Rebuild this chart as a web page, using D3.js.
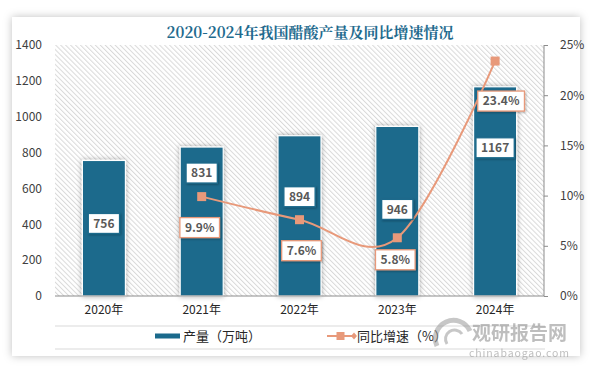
<!DOCTYPE html>
<html>
  <head>
    <meta charset="utf-8">
    <title>2020-2024年我国醋酸产量及同比增速情况</title>
    <script src="https://cdn.jsdelivr.net/npm/d3@7"></script>
    <style>
      body { margin: 0; background: #ffffff; }
      text { font-family: "Noto Sans CJK SC", "Noto Sans", sans-serif; }
      .axisLabel { font-size: 12px; fill: #404040; }
      .valueLabel { font-size: 12px; font-weight: bold; fill: #595959; }
    </style>
  </head>
  <body>
    <svg id="chart" width="595" height="368"></svg>

    <script>
      // data
      years = ["2020年", "2021年", "2022年", "2023年", "2024年"];
      output = [756, 831, 894, 946, 1167];
      growth = [null, 9.9, 7.6, 5.8, 23.4];
      leftTicks = [0, 200, 400, 600, 800, 1000, 1200, 1400];
      rightTicks = [0, 5, 10, 15, 20, 25];

      // colours
      barColour = "#1b6a8c";
      lineColour = "#e8997a";

      svg = d3.select("#chart");
      defs = svg.append("defs");

      // hatch pattern for plot background
      hatch = defs.append("pattern")
        .attr("id", "hatch")
        .attr("patternUnits", "userSpaceOnUse")
        .attr("width", 3.5)
        .attr("height", 3.5)
        .attr("patternTransform", "rotate(-45)");
      hatch.append("rect").attr("width", 3.5).attr("height", 3.5).attr("fill", "#ffffff");
      hatch.append("line")
        .attr("x1", 0.5).attr("y1", 0).attr("x2", 0.5).attr("y2", 3.5)
        .attr("stroke", "#d9d9d9").attr("stroke-width", 1);

      cardShadow = defs.append("filter").attr("id", "cardShadow")
        .attr("x", "-5%").attr("y", "-5%").attr("width", "110%").attr("height", "110%");
      cardShadow.append("feDropShadow")
        .attr("dx", 0).attr("dy", 0).attr("stdDeviation", 4)
        .attr("flood-color", "#000").attr("flood-opacity", 0.25);

      barShadow = defs.append("filter").attr("id", "barShadow")
        .attr("x", "-30%").attr("y", "-10%").attr("width", "160%").attr("height", "120%");
      barShadow.append("feDropShadow")
        .attr("dx", 0).attr("dy", 0).attr("stdDeviation", 2.5)
        .attr("flood-color", "#000").attr("flood-opacity", 0.35);

      labelShadow = defs.append("filter").attr("id", "labelShadow")
        .attr("x", "-20%").attr("y", "-20%").attr("width", "140%").attr("height", "150%");
      labelShadow.append("feDropShadow")
        .attr("dx", 1).attr("dy", 1).attr("stdDeviation", 1)
        .attr("flood-color", "#000").attr("flood-opacity", 0.3);

      // card
      svg.append("rect")
        .attr("x", 12).attr("y", 17)
        .attr("width", 568).attr("height", 339)
        .attr("fill", "#ffffff")
        .attr("filter", "url(#cardShadow)");

      // title
      svg.append("text")
        .attr("x", 310)
        .attr("y", 38)
        .attr("text-anchor", "middle")
        .style("font-family", "'Noto Serif CJK SC', 'DejaVu Serif', serif")
        .style("font-size", "15px")
        .style("font-weight", "bold")
        .style("fill", "#1f6b8e")
        .text("2020-2024年我国醋酸产量及同比增速情况");

      margin = { top: 45, right: 544, bottom: 296, left: 55 };

      x = d3.scaleBand()
        .domain(years)
        .range([margin.left, margin.right])
        .paddingInner(0.56)
        .paddingOuter(0.28);
      y = d3.scaleLinear()
        .domain([0, 1400])
        .range([margin.bottom, margin.top]);
      y2 = d3.scaleLinear()
        .domain([0, 25])
        .range([margin.bottom, margin.top]);

      // plot background
      svg.append("rect")
        .attr("x", margin.left)
        .attr("y", margin.top)
        .attr("width", margin.right - margin.left)
        .attr("height", margin.bottom - margin.top)
        .attr("fill", "url(#hatch)");

      // left axis (labels only)
      leftAxis = d3.axisLeft(y).tickValues(leftTicks).tickFormat(d3.format("d"))
        .tickSize(0).tickPadding(13);
      svg.append("g")
        .attr("transform", "translate(" + margin.left + ",0)")
        .call(leftAxis)
        .call(function(g) {
          g.select(".domain").remove();
          g.selectAll("text").attr("class", "axisLabel");
        });

      // right axis
      rightAxis = d3.axisRight(y2).tickValues(rightTicks)
        .tickFormat(function(d) { return d + "%"; })
        .tickSize(4).tickPadding(8);
      svg.append("g")
        .attr("transform", "translate(" + margin.right + ",0)")
        .call(rightAxis)
        .call(function(g) {
          g.select(".domain").attr("stroke", "#8c8c8c").attr("d", "M0," + margin.top + "V" + margin.bottom);
          g.selectAll("line").attr("stroke", "#8c8c8c");
          g.selectAll("text").attr("class", "axisLabel").attr("dx", 4);
        });

      // bars
      svg.append("g")
        .selectAll("rect")
        .data(output)
        .join("rect")
          .attr("x", function(d, i) { return x(years[i]); })
          .attr("y", function(d) { return y(d); })
          .attr("width", x.bandwidth())
          .attr("height", function(d) { return y(0) - y(d); })
          .attr("fill", barColour)
          .attr("stroke", "#ffffff")
          .attr("stroke-width", 1.2)
          .attr("filter", "url(#barShadow)");

      // x axis
      xAxis = d3.axisBottom(x).tickSize(0).tickPadding(9);
      svg.append("g")
        .attr("transform", "translate(0," + margin.bottom + ")")
        .call(xAxis)
        .call(function(g) {
          g.select(".domain").attr("stroke", "#8c8c8c").attr("d", "M" + margin.left + ",0H" + margin.right);
          g.selectAll("text").attr("class", "axisLabel").style("fill", "#262626");
        });

      // growth line
      linePoints = growth
        .map(function(d, i) { return { year: years[i], value: d }; })
        .filter(function(d) { return d.value != null; });

      line = d3.line()
        .x(function(d) { return x(d.year) + x.bandwidth() / 2; })
        .y(function(d) { return y2(d.value); })
        .curve(d3.curveCardinal.tension(0));

      svg.append("path")
        .datum(linePoints)
        .attr("d", line)
        .attr("fill", "none")
        .attr("stroke", lineColour)
        .attr("stroke-width", 2);

      svg.append("g")
        .selectAll("rect")
        .data(linePoints)
        .join("rect")
          .attr("x", function(d) { return x(d.year) + x.bandwidth() / 2 - 4.5; })
          .attr("y", function(d) { return y2(d.value) - 4.5; })
          .attr("width", 9)
          .attr("height", 9)
          .attr("fill", lineColour);

      // value labels (boxed)
      function boxLabel(cx, cy, txt, borderColour) {
        g = svg.append("g").attr("transform", "translate(" + cx + "," + cy + ")");
        t = g.append("text")
          .attr("class", "valueLabel")
          .attr("text-anchor", "middle")
          .attr("dy", "0.36em")
          .text(txt);
        w = t.node().getComputedTextLength() + 10;
        g.insert("rect", "text")
          .attr("x", -w / 2).attr("y", -10)
          .attr("width", w).attr("height", 20)
          .attr("fill", "#ffffff")
          .attr("stroke", borderColour)
          .attr("stroke-width", 1.3)
          .attr("filter", "url(#labelShadow)");
      }

      // label nudges (pixels) to keep boxes clear of each other
      barLabelShift = [63, 26, 61, 83, 61];
      output.forEach(function(d, i) {
        boxLabel(x(years[i]) + x.bandwidth() / 2, y(d) + barLabelShift[i], d, barColour);
      });

      growthLabelShift = [0, 31, 31, 22, 40];
      growthLabelX = [0, -2, 2, -2, 6];
      growth.forEach(function(d, i) {
        if (d == null) return;
        boxLabel(x(years[i]) + x.bandwidth() / 2 + growthLabelX[i], y2(d) + growthLabelShift[i], d.toFixed(1) + "%", lineColour);
      });

      // legend
      svg.append("line")
        .attr("x1", 55).attr("x2", 545).attr("y1", 326).attr("y2", 326)
        .attr("stroke", "#d9d9d9");
      svg.append("line")
        .attr("x1", 55).attr("x2", 545).attr("y1", 349).attr("y2", 349)
        .attr("stroke", "#d9d9d9");

      legend = svg.append("g");
      legend.append("rect")
        .attr("x", 155).attr("y", 333.5).attr("width", 25).attr("height", 5)
        .attr("fill", barColour);
      legend.append("text")
        .attr("x", 183).attr("y", 336).attr("dy", "0.36em")
        .style("font-size", "13px").style("fill", "#262626")
        .text("产量（万吨）");

      legend.append("line")
        .attr("x1", 327).attr("x2", 354).attr("y1", 336).attr("y2", 336)
        .attr("stroke", lineColour).attr("stroke-width", 2);
      legend.append("rect")
        .attr("x", 336.5).attr("y", 332).attr("width", 8).attr("height", 8)
        .attr("fill", lineColour);
      legend.append("path")
        .attr("d", "M354,332.5L357,336L354,339.5L351,336Z")
        .attr("fill", lineColour);
      legend.append("text")
        .attr("x", 357).attr("y", 336).attr("dy", "0.36em")
        .style("font-size", "13px").style("fill", "#262626")
        .text("同比增速（%）");

      // watermark
      mark = svg.append("g").attr("opacity", 0.55);
      mark.append("path")
        .attr("d", "M437,346 A18,18 0 1,1 470,331")
        .attr("fill", "none").attr("stroke", "#9a9a9a").attr("stroke-width", 5);
      mark.append("path")
        .attr("d", "M447,344 A9,9 0 1,1 462,334")
        .attr("fill", "none").attr("stroke", "#9a9a9a").attr("stroke-width", 3);
      mark.append("text")
        .attr("x", 472).attr("y", 339.5)
        .style("font-size", "19px").style("font-weight", "bold").style("fill", "#8a8a8a")
        .text("观研报告网");
      mark.append("text")
        .attr("x", 469).attr("y", 357)
        .style("font-size", "10.5px").style("fill", "#8a8a8a")
        .style("letter-spacing", "0.9px")
        .text("chinabaogao.com");
    </script>
  </body>
</html>
